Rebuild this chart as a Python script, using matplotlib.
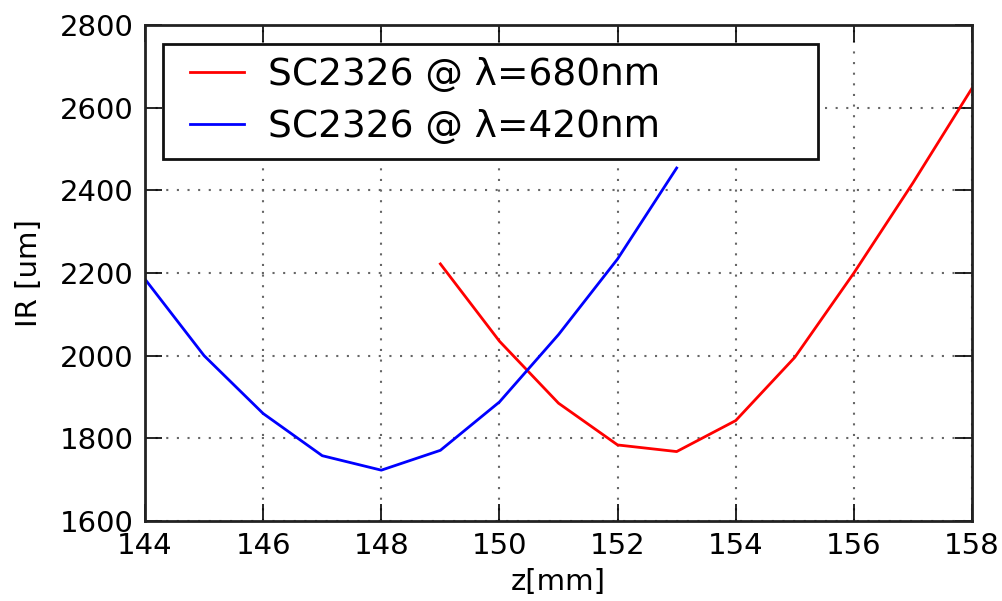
import matplotlib
matplotlib.use("Agg")
import matplotlib.pyplot as plt
from matplotlib.patches import Rectangle

# focus scan: beam size vs. z position for two wavelengths
z_420 = [144, 145, 146, 147, 148, 149, 150, 151, 152, 153]
ir_420 = [2185, 2000, 1860, 1758, 1723, 1771, 1888, 2051, 2234, 2454]

z_680 = [149, 150, 151, 152, 153, 154, 155, 156, 157, 158]
ir_680 = [2222, 2035, 1885, 1784, 1768, 1843, 1996, 2200, 2418, 2647]

plt.rcParams["font.family"] = ["DejaVu Sans"]

fig = plt.figure(figsize=(10.03, 6.01), dpi=100)
ax = fig.add_axes([0.1446, 0.1331, 0.8245, 0.8253])

ax.plot(z_680, ir_680, color="#ff0000", lw=2, label="SC2326 @ λ=680nm")
ax.plot(z_420, ir_420, color="#0000ff", lw=2, label="SC2326 @ λ=420nm")

ax.set_xlim(144, 158)
ax.set_ylim(1600, 2800)
ax.set_xticks(range(144, 159, 2))
ax.set_yticks(range(1600, 2801, 200))
ax.grid(True, linestyle=(0, (1, 4.1)), color="#666666", linewidth=1.5)

ax.tick_params(direction="in", length=12, width=1.2, top=True, right=True,
               labelsize=21, pad=8)
for spine in ax.spines.values():
    spine.set_linewidth(2)
    spine.set_color("#222222")

ax.set_xlabel("z[mm]", fontsize=21, labelpad=6)
ax.set_ylabel("IR [um]", fontsize=21, labelpad=12)

# wide white legend box, entries sit on top of it
ax.add_patch(Rectangle((0.0218, 0.7298), 0.792, 0.2319, transform=ax.transAxes,
                       facecolor="white", edgecolor="#111111", linewidth=2,
                       zorder=4.5))
leg = ax.legend(loc="upper left", bbox_to_anchor=(0.038, 0.962), fontsize=27,
                frameon=False, handlelength=1.45, handletextpad=0.65,
                borderpad=0.35, labelspacing=0.42, borderaxespad=0)
leg.set_zorder(5)

fig.savefig("out.png", dpi=100)
